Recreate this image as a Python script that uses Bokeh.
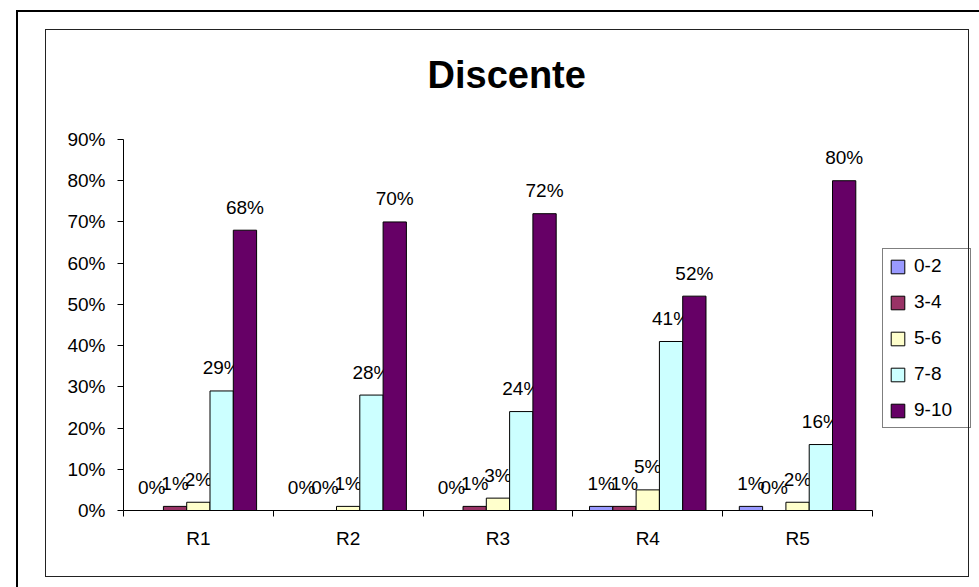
from bokeh.plotting import figure
from bokeh.models import (ColumnDataSource, Range1d, FixedTicker, PrintfTickFormatter,
                          Legend, LegendItem, LinearAxis, Title, InlineStyleSheet)
from bokeh.embed import file_html
from bokeh.resources import INLINE
from bokeh.core.properties import value

categories = ["R1", "R2", "R3", "R4", "R5"]
series = ["0-2", "3-4", "5-6", "7-8", "9-10"]
colors = ["#9999FF", "#993366", "#FFFFCC", "#CCFFFF", "#660066"]
v_0_2 = [0, 0, 0, 1, 1]
v_3_4 = [1, 0, 1, 1, 0]
v_5_6 = [2, 1, 3, 5, 2]
v_7_8 = [29, 28, 24, 41, 16]
v_9_10 = [68, 70, 72, 52, 80]
y_ticks = [0, 10, 20, 30, 40, 50, 60, 70, 80, 90]
title_text = "Discente"

all_values = [v_0_2, v_3_4, v_5_6, v_7_8, v_9_10]

FONT = "Liberation Sans"
TXT = "19px"

# plot frame spans x 123..975 px; category axis occupies 123..872 (149.8 px per category)
n = len(categories)
frame_w = 975 - 123
x_end = n * frame_w / 749.0

p = figure(width=979, height=587, x_range=Range1d(0, x_end), y_range=Range1d(0, 90),
           output_backend="svg", toolbar_location=None, x_axis_type=None, y_axis_type=None,
           min_border_left=123, min_border_right=4, min_border_top=139, min_border_bottom=77)
p.outline_line_color = None
p.background_fill_color = "white"
p.border_fill_color = "white"

# y axis
yaxis = LinearAxis(ticker=FixedTicker(ticks=y_ticks, minor_ticks=[]),
                   formatter=PrintfTickFormatter(format="%d%%"))
yaxis.major_tick_out = 6
yaxis.major_tick_in = 0
yaxis.minor_tick_out = 0
yaxis.minor_tick_in = 0
yaxis.axis_line_color = "black"
yaxis.major_tick_line_color = "black"
yaxis.major_label_standoff = 12
yaxis.major_label_text_font = FONT
yaxis.major_label_text_font_size = TXT
yaxis.major_label_text_color = "black"
p.add_layout(yaxis, "left")

# x axis: labels at category centers, ticks at boundaries
centers = [i + 0.5 for i in range(n)]
bounds = [i for i in range(n + 1)]
xaxis = LinearAxis(ticker=FixedTicker(ticks=centers, minor_ticks=bounds),
                   major_label_overrides={c: lab for c, lab in zip(centers, categories)},
                   bounds=(0, n))
xaxis.major_tick_out = 0
xaxis.major_tick_in = 0
xaxis.minor_tick_out = 6
xaxis.minor_tick_in = 0
xaxis.minor_tick_line_color = "black"
xaxis.axis_line_color = "black"
xaxis.major_label_standoff = 11
xaxis.major_label_text_font = FONT
xaxis.major_label_text_font_size = TXT
xaxis.major_label_text_color = "black"
p.add_layout(xaxis, "below")

# bars
w = 0.1555
start = 0.111
items = []
for k, (name, col, vals) in enumerate(zip(series, colors, all_values)):
    xs = [i + start + w * (k + 0.5) for i in range(n)]
    src = ColumnDataSource(dict(x=xs, top=vals, lab=[f"{v}%" for v in vals]))
    r = p.vbar(x="x", top="top", bottom=0, width=w, source=src,
               fill_color=col, line_color="black", line_width=1)
    p.text(x="x", y="top", text="lab", source=src, text_align="center",
           text_baseline="alphabetic", y_offset=-23, text_font=value(FONT),
           text_font_size=TXT, text_color="black")
    items.append(LegendItem(label=name, renderers=[r]))

legend = Legend(items=items, location=(759, 82), orientation="vertical")
legend.glyph_width = 17
legend.glyph_height = 17
legend.label_standoff = 8
legend.label_width = 50
legend.label_height = 21
legend.spacing = 14
legend.padding = 6
legend.margin = 0
legend.label_text_font = FONT
legend.label_text_font_size = TXT
legend.label_text_color = "black"
legend.border_line_color = "black"
legend.border_line_width = 1
legend.background_fill_color = "white"
p.add_layout(legend, "center")

p.add_layout(Title(text=title_text, align="left", text_font=FONT, text_font_size="38px",
                   text_font_style="bold", text_color="black", standoff=88, offset=304), "above")

# chart borders (outer and inner frame)
css = """
:host::before {
  content: ""; position: absolute; left: 16px; top: 10px; width: 963px; height: 577px;
  border-left: 2px solid #000; border-top: 2px solid #000; box-sizing: border-box;
  pointer-events: none; z-index: 10;
}
:host::after {
  content: ""; position: absolute; left: 45px; top: 29px; width: 924px; height: 548px;
  border: 1px solid #222; box-sizing: border-box; pointer-events: none; z-index: 10;
}
"""
p.stylesheets = [InlineStyleSheet(css=css)]

open("out.html", "w").write(file_html(p, INLINE))
